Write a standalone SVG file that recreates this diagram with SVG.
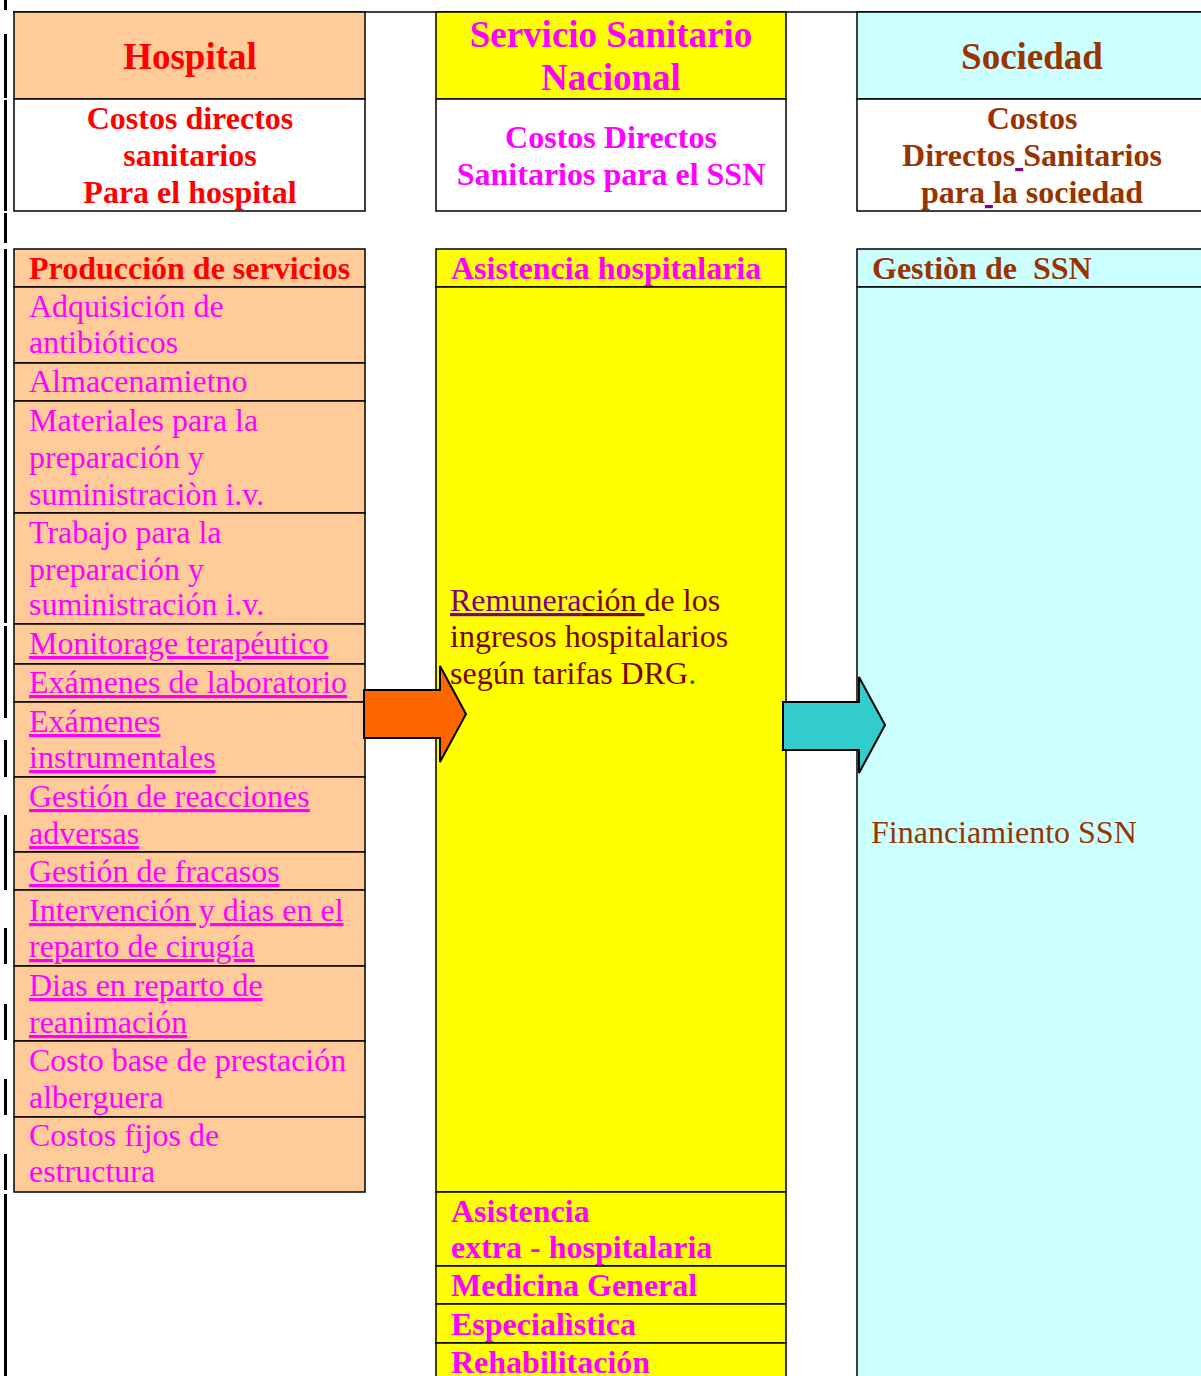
<svg xmlns="http://www.w3.org/2000/svg" width="1201" height="1376" viewBox="0 0 1201 1376">
<style>
text{font-family:"Liberation Serif","Times New Roman",serif;}
.h{font-size:37px;font-weight:bold;text-anchor:middle;}
.s{font-size:32px;font-weight:bold;text-anchor:middle;}
.b{font-size:32px;font-weight:bold;}
.r{font-size:32px;}
.red{fill:#FF0000;}
.mag{fill:#FF00FF;}
.brn{fill:#993300;}
.dr{fill:#800000;}
.u{text-decoration:underline;}
.cell{stroke:#000;stroke-width:1.5;}
.peach{fill:#FFCC99;}
.yel{fill:#FFFF00;}
.cyan{fill:#CCFFFF;}
.wht{fill:#FFFFFF;}
.bar{fill:#000;}
.arrow{stroke:#000;stroke-width:2;stroke-linejoin:miter;}
</style>
<rect x="0" y="0" width="1201" height="1376" fill="#FFFFFF"/>

<g id="page-rules">
<line x1="13" y1="12" x2="1201" y2="12" stroke="#000" stroke-width="1.5"/>
<rect class="bar" x="4" y="0" width="3" height="10"/>
<rect class="bar" x="4" y="34" width="3" height="64"/>
<rect class="bar" x="4" y="100" width="3" height="111"/>
<rect class="bar" x="4" y="213" width="3" height="30"/>
<rect class="bar" x="4" y="249" width="3" height="374"/>
<rect class="bar" x="4" y="626" width="3" height="92"/>
<rect class="bar" x="4" y="740" width="3" height="37"/>
<rect class="bar" x="4" y="815" width="3" height="75"/>
<rect class="bar" x="4" y="928" width="3" height="36"/>
<rect class="bar" x="4" y="1004" width="3" height="36"/>
<rect class="bar" x="4" y="1079" width="3" height="36"/>
<rect class="bar" x="4" y="1154" width="3" height="36"/>
<rect class="bar" x="4" y="1194" width="3" height="182"/>
</g>

<!-- Header row -->
<g id="hospital-header">
<rect class="cell peach" x="14" y="12" width="351" height="87"/>
<text class="h red" x="190" y="69">Hospital</text>
</g>
<g id="hospital-costs">
<rect class="cell wht" x="14" y="99" width="351" height="112"/>
<text class="s red" x="190" y="129">Costos directos</text>
<text class="s red" x="190" y="166">sanitarios</text>
<text class="s red" x="190" y="203">Para el hospital</text>
</g>

<g id="ssn-header">
<rect class="cell yel" x="436" y="12" width="350" height="87"/>
<text class="h mag" x="611" y="47">Servicio Sanitario</text>
<text class="h mag" x="611" y="90">Nacional</text>
</g>
<g id="ssn-costs">
<rect class="cell wht" x="436" y="99" width="350" height="112"/>
<text class="s mag" x="611" y="148">Costos Directos</text>
<text class="s mag" x="611" y="185">Sanitarios para el SSN</text>
</g>

<g id="sociedad-header">
<rect class="cell cyan" x="857" y="12" width="360" height="87"/>
<text class="h brn" x="1032" y="69">Sociedad</text>
</g>
<g id="sociedad-costs">
<rect class="cell wht" x="857" y="99" width="360" height="112"/>
<text class="s brn" x="1032" y="129">Costos</text>
<text class="s brn" x="1032" y="166">Directos<tspan class="u" fill="#800080"> </tspan>Sanitarios</text>
<text class="s brn" x="1032" y="203">para<tspan class="u" fill="#800080"> </tspan>la sociedad</text>
</g>

<!-- Hospital production column -->
<g id="produccion-servicios">
<rect class="cell peach" x="14" y="249" width="351" height="38"/>
<text class="b red" x="29" y="279">Producción de servicios</text>
</g>
<g id="adquisicion">
<rect class="cell peach" x="14" y="287" width="351" height="76"/>
<text class="r mag" x="29" y="317">Adquisición de</text>
<text class="r mag" x="29" y="353">antibióticos</text>
</g>
<g id="almacenamiento">
<rect class="cell peach" x="14" y="363" width="351" height="38"/>
<text class="r mag" x="29" y="392">Almacenamietno</text>
</g>
<g id="materiales">
<rect class="cell peach" x="14" y="401" width="351" height="112"/>
<text class="r mag" x="29" y="431">Materiales para la</text>
<text class="r mag" x="29" y="468">preparación y</text>
<text class="r mag" x="29" y="505">suministraciòn i.v.</text>
</g>
<g id="trabajo">
<rect class="cell peach" x="14" y="513" width="351" height="111"/>
<text class="r mag" x="29" y="543">Trabajo para la</text>
<text class="r mag" x="29" y="580">preparación y</text>
<text class="r mag" x="29" y="615">suministración i.v.</text>
</g>
<g id="monitorage">
<rect class="cell peach" x="14" y="624" width="351" height="40"/>
<text class="r mag u" x="29" y="654">Monitorage terapéutico</text>
</g>
<g id="examenes-laboratorio">
<rect class="cell peach" x="14" y="664" width="351" height="38"/>
<text class="r mag u" x="29" y="693">Exámenes de laboratorio</text>
</g>
<g id="examenes-instrumentales">
<rect class="cell peach" x="14" y="702" width="351" height="75"/>
<text class="r mag u" x="29" y="732">Exámenes</text>
<text class="r mag u" x="29" y="768">instrumentales</text>
</g>
<g id="reacciones-adversas">
<rect class="cell peach" x="14" y="777" width="351" height="75"/>
<text class="r mag u" x="29" y="807">Gestión de reacciones</text>
<text class="r mag u" x="29" y="844">adversas</text>
</g>
<g id="fracasos">
<rect class="cell peach" x="14" y="852" width="351" height="38"/>
<text class="r mag u" x="29" y="882">Gestión de fracasos</text>
</g>
<g id="cirugia">
<rect class="cell peach" x="14" y="890" width="351" height="76"/>
<text class="r mag u" x="29" y="921">Intervención y dias en el</text>
<text class="r mag u" x="29" y="957">reparto de cirugía</text>
</g>
<g id="reanimacion">
<rect class="cell peach" x="14" y="966" width="351" height="75"/>
<text class="r mag u" x="29" y="996">Dias en reparto de</text>
<text class="r mag u" x="29" y="1033">reanimación</text>
</g>
<g id="costo-base">
<rect class="cell peach" x="14" y="1041" width="351" height="76"/>
<text class="r mag" x="29" y="1071">Costo base de prestación</text>
<text class="r mag" x="29" y="1108">alberguera</text>
</g>
<g id="costos-fijos">
<rect class="cell peach" x="14" y="1117" width="351" height="75"/>
<text class="r mag" x="29" y="1146">Costos fijos de</text>
<text class="r mag" x="29" y="1182">estructura</text>
</g>

<!-- SSN column -->
<g id="asistencia-hospitalaria">
<rect class="cell yel" x="436" y="249" width="350" height="38"/>
<text class="b mag" x="451" y="279">Asistencia hospitalaria</text>
</g>
<g id="remuneracion">
<rect class="cell yel" x="436" y="287" width="350" height="905"/>
<text class="r dr" x="450" y="611"><tspan class="u" fill="#800080">Remunera</tspan><tspan class="u">ción </tspan>de los</text>
<text class="r dr" x="450" y="647">ingresos hospitalarios</text>
<text class="r dr" x="450" y="684">según tarifas DRG<tspan fill="#008000">.</tspan></text>
</g>
<g id="asistencia-extra">
<rect class="cell yel" x="436" y="1192" width="350" height="74"/>
<text class="b mag" x="451" y="1222">Asistencia</text>
<text class="b mag" x="451" y="1258">extra - hospitalaria</text>
</g>
<g id="medicina-general">
<rect class="cell yel" x="436" y="1266" width="350" height="38"/>
<text class="b mag" x="451" y="1296">Medicina General</text>
</g>
<g id="especialistica">
<rect class="cell yel" x="436" y="1304" width="350" height="39"/>
<text class="b mag" x="451" y="1335">Especialìstica</text>
</g>
<g id="rehabilitacion">
<rect class="cell yel" x="436" y="1343" width="350" height="40"/>
<text class="b mag" x="451" y="1373">Rehabilitación</text>
</g>

<!-- Sociedad column -->
<g id="gestion-ssn">
<rect class="cell cyan" x="857" y="249" width="360" height="38"/>
<text class="b brn" x="872" y="279" xml:space="preserve">Gestiòn de  SSN</text>
</g>
<g id="financiamiento">
<rect class="cell cyan" x="857" y="287" width="360" height="1100"/>
<text class="r brn" x="871" y="843">Financiamiento SSN</text>
</g>

<!-- Connectors -->
<g id="connectors">
<polygon class="arrow" fill="#FF6600" points="364,690 440,690 440,666 466,714 440,762 440,738 364,738"/>
<polygon class="arrow" fill="#33CCCC" points="783,702 859,702 859,677 885,725 859,773 859,750 783,750"/>
</g>
</svg>
